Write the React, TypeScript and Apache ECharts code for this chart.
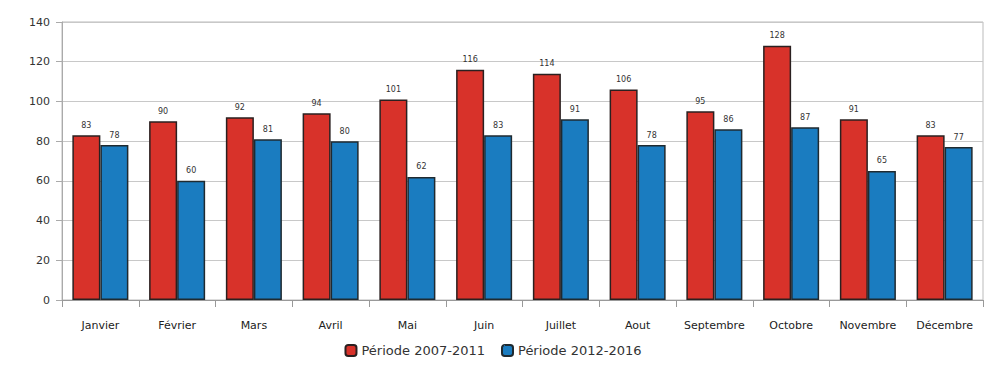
import React, { useEffect, useRef } from "react";
import * as echarts from "echarts";

const categories = ["Janvier", "Février", "Mars", "Avril", "Mai", "Juin", "Juillet", "Aout", "Septembre", "Octobre", "Novembre", "Décembre"];
const serie1Name = "Période 2007-2011";
const serie2Name = "Période 2012-2016";
const serie1 = [83, 90, 92, 94, 101, 116, 114, 106, 95, 128, 91, 83];
const serie2 = [78, 60, 81, 80, 62, 83, 91, 78, 86, 87, 65, 77];

export default function App() {
  const ref = useRef<HTMLDivElement>(null);
  useEffect(() => {
    if (!ref.current) return;
    const chart = echarts.init(ref.current, undefined, { renderer: "svg" });
    const font = "DejaVu Sans";
    chart.setOption({
      animation: false,
      backgroundColor: "#ffffff",
      textStyle: { fontFamily: font },
      grid: { left: 62, right: 3, top: 22, bottom: 67, containLabel: false, show: true, borderColor: "#bbb", borderWidth: 1 },
      legend: {
        bottom: 5,
        left: "center",
        itemWidth: 11,
        itemHeight: 11,
        itemGap: 16,
        textStyle: { fontSize: 13, color: "#333", fontFamily: font },
        data: [serie1Name, serie2Name],
      },
      xAxis: {
        type: "category",
        data: categories,
        axisLine: { lineStyle: { color: "#999" } },
        axisTick: { show: true, alignWithLabel: false, length: 7, lineStyle: { color: "#999" } },
        axisLabel: { interval: 0, color: "#222", fontSize: 11, margin: 20, fontFamily: font },
      },
      yAxis: {
        type: "value",
        min: 0,
        max: 140,
        interval: 20,
        axisLine: { show: true, lineStyle: { color: "#aaa" } },
        axisTick: { show: true, length: 6, lineStyle: { color: "#aaa" } },
        axisLabel: { color: "#333", fontSize: 11, margin: 12, fontFamily: font },
        splitLine: { lineStyle: { color: "#c8c8c8" } },
      },
      series: [
        {
          name: serie1Name,
          type: "bar",
          data: serie1,
          barGap: "0%",
          barCategoryGap: "27%",
          itemStyle: { color: "#d8322a", borderColor: "#2a2020", borderWidth: 1.5 },
          label: { show: true, position: "top", fontSize: 8, color: "#333", distance: 6 },
        },
        {
          name: serie2Name,
          type: "bar",
          data: serie2,
          itemStyle: { color: "#1a7cc0", borderColor: "#1f2a30", borderWidth: 1.5 },
          label: { show: true, position: "top", fontSize: 8, color: "#333", distance: 6 },
        },
      ],
    });
    return () => chart.dispose();
  }, []);
  return <div ref={ref} style={{ width: 986, height: 367, position: "absolute", left: 0, top: 0 }} />;
}
